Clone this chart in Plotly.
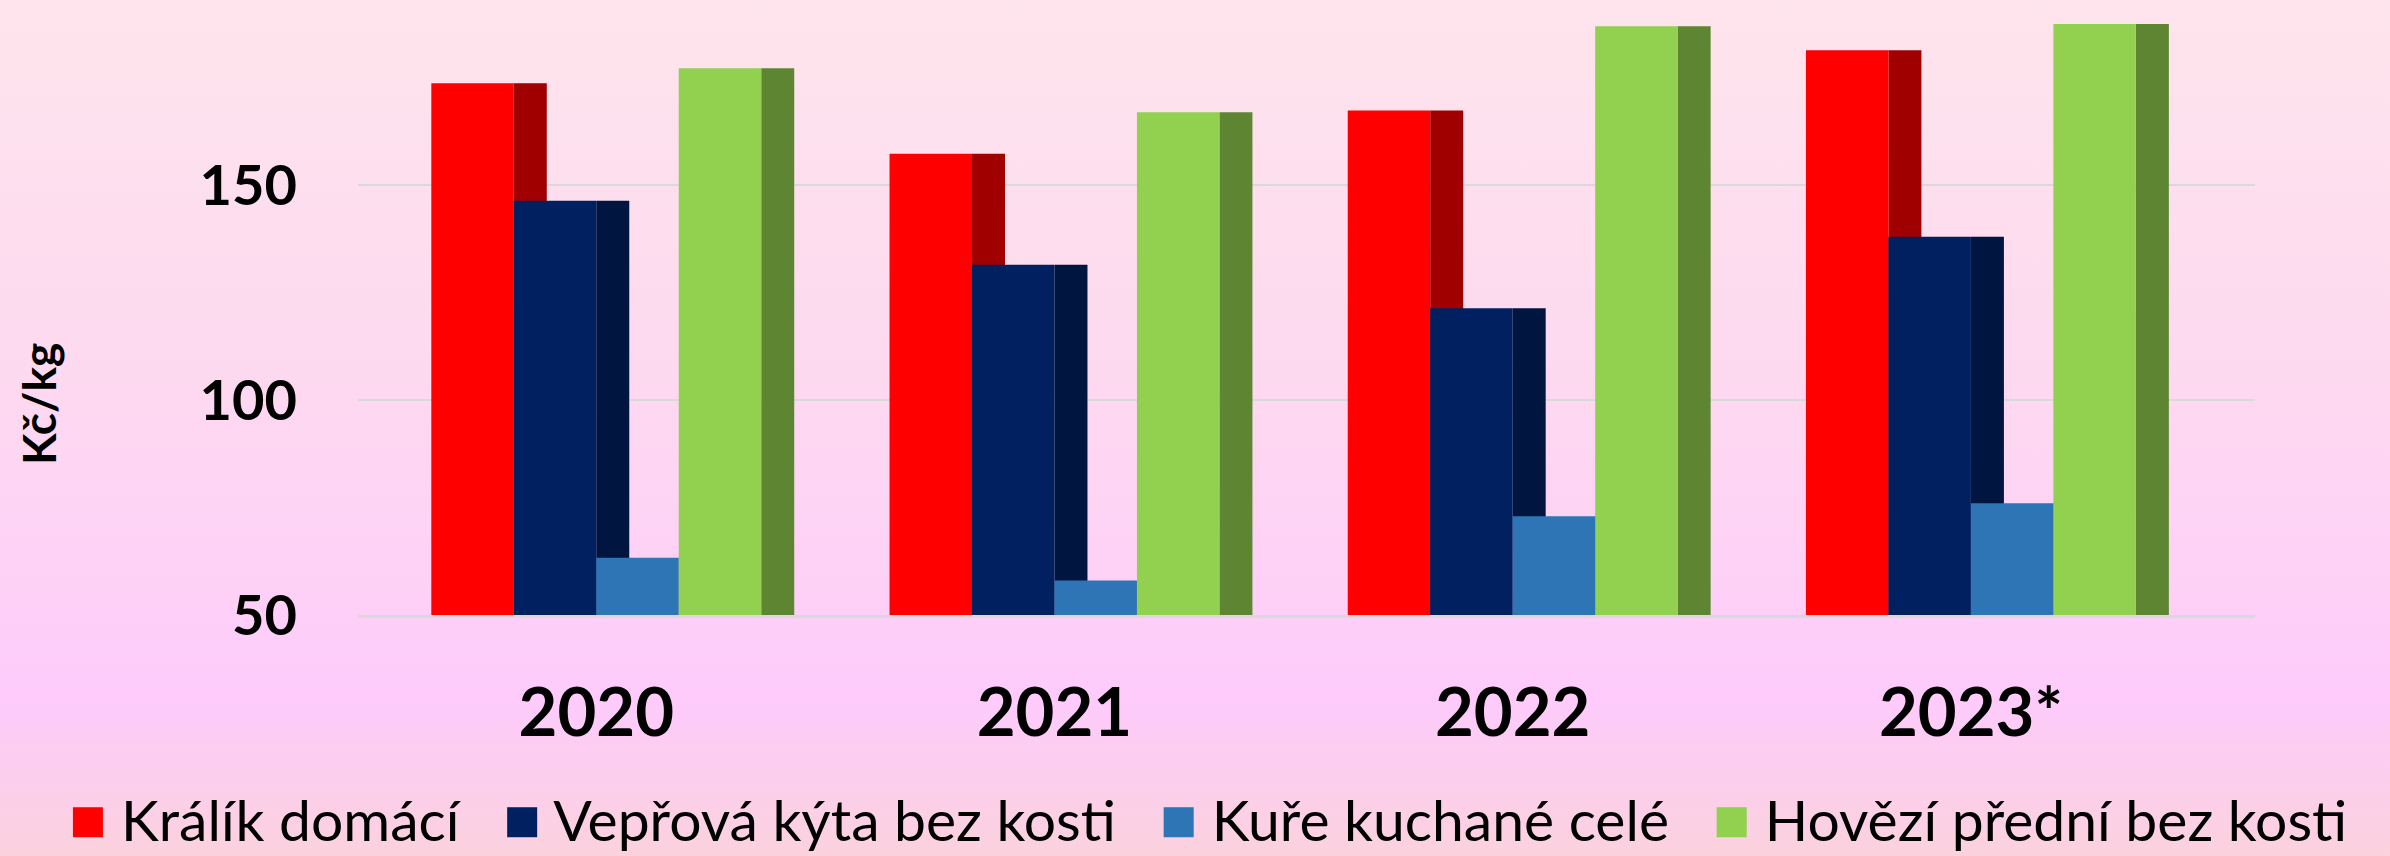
import base64
import plotly.graph_objects as go

years = ["2020", "2021", "2022", "2023*"]
kralik = [173.7, 157.3, 167.4, 181.4]
veprova = [146.4, 131.5, 121.4, 138.0]
kure = [63.3, 58.0, 73.0, 76.0]
hovezi = [177.2, 167.0, 187.0, 187.5]

series_names = ["Králík domácí", "Vepřová kýta bez kosti", "Kuře kuchané celé", "Hovězí přední bez kosti"]
front_colors = ["#FF0000", "#002060", "#2E75B6", "#92D050"]
side_colors = ["#A00000", "#00153F", "#1F4E79", "#5E8632"]
series_values = [kralik, veprova, kure, hovezi]

W, H = 2390, 856
ML, MR, MT, MB = 358, 135, 9, 241
plot_h = H - MT - MB

FRONT_W = 0.18
SIDE_W = 0.072
FONT = "Lato"

fig = go.Figure()
for i, (name, vals) in enumerate(zip(series_names, series_values)):
    off = -2 * FRONT_W + i * FRONT_W
    fig.add_trace(go.Bar(
        x=years, y=vals, width=SIDE_W, offset=off + FRONT_W,
        marker=dict(color=side_colors[i], line=dict(width=0)),
        showlegend=False, hoverinfo="skip"))
    fig.add_trace(go.Bar(
        x=years, y=vals, width=FRONT_W, offset=off, name=name,
        marker=dict(color=front_colors[i], line=dict(width=0)),
        showlegend=False))

# gradient background as an svg image
svg = f'''<svg xmlns="http://www.w3.org/2000/svg" width="{W}" height="{H}" preserveAspectRatio="none">
<defs><linearGradient id="g" x1="0" y1="0" x2="0" y2="1">
<stop offset="0" stop-color="#FEE4EC"/>
<stop offset="0.45" stop-color="#FDD9F0"/>
<stop offset="0.82" stop-color="#FECBFB"/>
<stop offset="1" stop-color="#FBD2DE"/>
</linearGradient></defs>
<rect width="{W}" height="{H}" fill="url(#g)"/></svg>'''
src = "data:image/svg+xml;base64," + base64.b64encode(svg.encode()).decode()

def py(pix):
    return (H - MB - pix) / plot_h

def px(pix):
    return (pix - ML) / (W - ML - MR)

legend_text = "&nbsp;&nbsp;&nbsp;".join(
    f'<span style="color:{c};font-size:62px">■</span> {n}'
    for c, n in zip(front_colors, series_names))

fig.update_layout(
    width=W, height=H,
    margin=dict(l=ML, r=MR, t=MT, b=MB, autoexpand=False),
    barmode="overlay",
    paper_bgcolor="rgba(0,0,0,0)",
    plot_bgcolor="rgba(0,0,0,0)",
    showlegend=False,
    images=[dict(source=src, xref="paper", yref="paper",
                 x=px(0), y=py(0), sizex=px(W) - px(0), sizey=py(0) - py(H),
                 xanchor="left", yanchor="top", sizing="stretch", layer="below")],
    xaxis=dict(type="category", range=[-0.52, 3.62], showgrid=False,
               showline=True, linecolor="#D9D9D9", linewidth=3,
               ticks="", ticklabelstandoff=38,
               tickfont=dict(family=FONT, size=67, color="#000000", weight="bold")),
    yaxis=dict(range=[50, 191], tickvals=[50, 100, 150], showgrid=True,
               gridcolor="#D9D9D9", gridwidth=2, zeroline=False,
               ticks="", ticklabelstandoff=60,
               tickfont=dict(family=FONT, size=56, color="#000000", weight="bold")),
    annotations=[
        dict(text="Kč/kg", textangle=-90, xref="paper", yref="paper",
             x=px(38), y=py(404), xanchor="center", yanchor="middle", showarrow=False,
             font=dict(family=FONT, size=46, color="#000000", weight="bold")),
        dict(text=legend_text, xref="paper", yref="paper",
             x=px(1208), y=py(817), xanchor="center", yanchor="middle", showarrow=False,
             font=dict(family=FONT, size=57, color="#000000")),
    ],
)

fig.write_html("out.html")
